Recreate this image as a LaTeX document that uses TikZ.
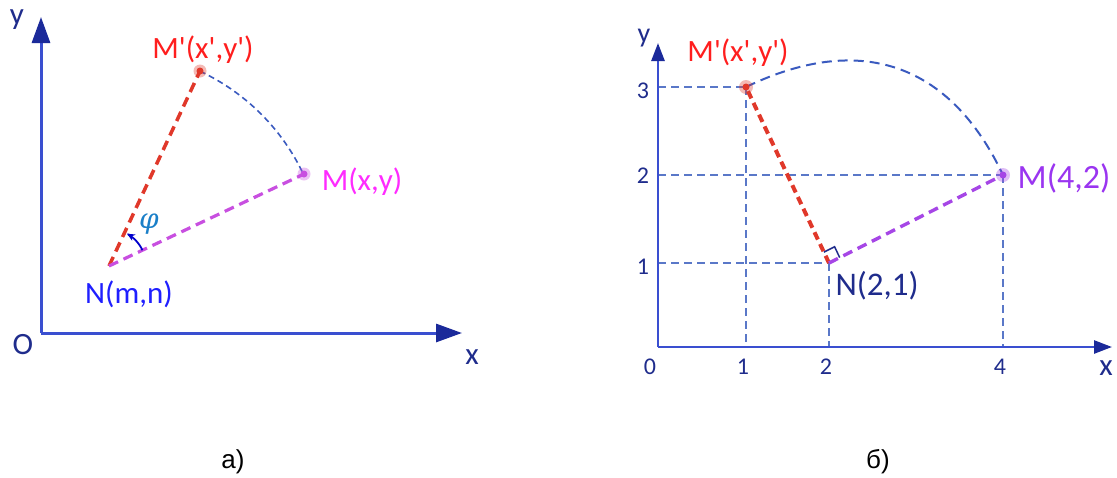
\documentclass[tikz,border=0pt]{standalone}
\usepackage{fontspec}
\setmainfont{Carlito}
\newfontfamily\arialf{Liberation Sans}
\newfontfamily\phif{DejaVu Serif}
\usetikzlibrary{arrows.meta,calc}
\definecolor{axline}{HTML}{3A4FD0}
\definecolor{axhead}{HTML}{1B2A9A}
\definecolor{navy}{HTML}{1F2C8C}
\definecolor{nblue}{HTML}{1F1FFF}
\definecolor{mred}{HTML}{FF1E1E}
\definecolor{dred}{HTML}{E0382A}
\definecolor{mmag}{HTML}{FF2BFF}
\definecolor{dmag}{HTML}{C84FE0}
\definecolor{arcblue}{HTML}{3A5ABF}
\definecolor{phiblue}{HTML}{1A7FC8}
\definecolor{guide}{HTML}{5A78C8}
\definecolor{mpurp}{HTML}{9A35F0}
\definecolor{dpurp}{HTML}{A646E6}
\newcommand{\ap}{\textquotesingle}
\tikzset{
  axisL/.style={axline, line width=3pt, -{Triangle[length=26pt,width=18pt,color=axhead]}},
  axisR/.style={axline, line width=2.6pt, -{Triangle[length=18pt,width=13pt,color=axhead]}},
  lab/.style={inner sep=0pt, font=\fontsize{31}{33}\selectfont},
  tick/.style={inner sep=0pt, navy, font=\fontsize{24}{26}\selectfont},
  reddash/.style={dred, line width=3.5pt, dash pattern=on 10pt off 6pt},
  magdash/.style={dmag, line width=3.2pt, dash pattern=on 10pt off 6pt},
  arcdash/.style={arcblue, line width=1.6pt, dash pattern=on 6pt off 4pt},
  guideline/.style={guide, line width=1.3pt, dash pattern=on 8pt off 5pt},
  glow/.style={opacity=0.35},
}
\begin{document}
\begin{tikzpicture}[x=1pt,y=-1pt]
\useasboundingbox (0,0) rectangle (1117,477);
% ---------------- left figure ----------------
\coordinate (O1) at (41,333);
\coordinate (Y1) at (41,17);
\coordinate (X1) at (462,333);
\draw[axisL] (O1) -- (Y1);
\draw[axisL] (O1) -- (X1);
\node[lab, navy] (ylab1) at (17,20) {y};
\node[lab, navy] (olab1) at (23,345) {O};
\node[lab, navy] (xlab1) at (472,357) {x};

\coordinate (N1) at (109,266);
\coordinate (M1) at (304,174);
\coordinate (Mp1) at (200,71);
\draw[reddash] (N1) -- (Mp1);
\draw[magdash] (N1) -- (M1);
\draw[arcdash] plot[domain=65:25.3, samples=40] ({109+215*cos(\x)}, {266-215*sin(\x)});
\draw[blue!80!black, line width=1.8pt, -{Stealth[length=8pt,width=7pt]}]
  plot[domain=25.3:61, samples=20] ({109+37*cos(\x)}, {266-37*sin(\x)});
\fill[dred, glow] (Mp1) circle (6.5);
\fill[dred] (Mp1) circle (3.5);
\fill[dmag, glow] (M1) circle (6.5);
\fill[dmag] (M1) circle (3.5);
\node[lab, mred] (mplab1) at (203,50) {M\ap(x\ap,y\ap)};
\node[lab, mmag] (mlab1) at (362,182) {M(x,y)};
\node[lab, nblue] (nlab1) at (129,294) {N(m,n)};
\node[inner sep=0pt, phiblue, font=\phif\itshape\fontsize{28}{30}\selectfont] (phi) at (149,224) {φ};
\node[inner sep=0pt, font=\arialf\fontsize{26}{28}\selectfont] (capa) at (233,462) {а)};

% ---------------- right figure ----------------
\coordinate (O2) at (658,347);
\coordinate (Y2) at (658,43);
\coordinate (X2) at (1112,347);
\coordinate (N2) at (829,263);
\coordinate (M2) at (1003,175);
\coordinate (Mp2) at (746,87);
\coordinate (Ay3) at (658,87);
\coordinate (Ay2) at (658,175);
\coordinate (Ay1) at (658,263);
\coordinate (Ax1) at (746,347);
\coordinate (Ax2) at (829,347);
\coordinate (Ax4) at (1003,347);
\draw[guideline] (Ay3) -- (Mp2);
\draw[guideline] (Ay2) -- (M2);
\draw[guideline] (Ay1) -- (N2);
\draw[guideline] (Mp2) -- (Ax1);
\draw[guideline] (N2) -- (Ax2);
\draw[guideline] (M2) -- (Ax4);
\draw[axisR] (O2) -- (Y2);
\draw[axisR] (O2) -- (X2);
\draw[arcblue, line width=2pt, dash pattern=on 10pt off 6pt]
  (Mp2) .. controls (860,32) and (950,63) .. (M2);
\draw[reddash, line width=4pt, dash pattern=on 8pt off 5pt] (N2) -- (Mp2);
\draw[dpurp, line width=3.4pt, dash pattern=on 10pt off 6pt] (N2) -- (M2);
\coordinate (ra) at ($(N2)!12pt!(Mp2)$);
\coordinate (rb) at ($(N2)!12pt!(M2)$);
\coordinate (rc) at ($(ra)+(rb)-(N2)$);
\draw[navy, line width=1.5pt] (ra) -- (rc) -- (rb);
\fill[dred, glow] (Mp2) circle (7);
\fill[dred] (Mp2) circle (3.5);
\fill[dpurp, glow] (M2) circle (7);
\fill[dpurp] (M2) circle (3.5);
\node[lab, navy, font=\fontsize{28}{30}\selectfont] (ylab2) at (644,38) {y};
\node[lab, navy] (xlab2) at (1106,368) {x};
\node[tick] (t0) at (650,367) {0};
\node[tick] (t1) at (743,367) {1};
\node[tick] (t2) at (826,367) {2};
\node[tick] (t4) at (1000,367) {4};
\node[tick] (ty3) at (643,91) {3};
\node[tick] (ty2) at (643,176) {2};
\node[tick] (ty1) at (643,267) {1};
\node[lab, mred, font=\fontsize{31}{33}\selectfont] (mplab2) at (738,53) {M\ap(x\ap,y\ap)};
\node[lab, mpurp, font=\fontsize{34}{36}\selectfont] (mlab2) at (1064,178) {M(4,2)};
\node[lab, navy, font=\fontsize{33}{35}\selectfont] (nlab2) at (877,286) {N(2,1)};
\node[inner sep=0pt, font=\arialf\fontsize{26}{28}\selectfont] (capb) at (878,462) {б)};
\end{tikzpicture}
\end{document}
